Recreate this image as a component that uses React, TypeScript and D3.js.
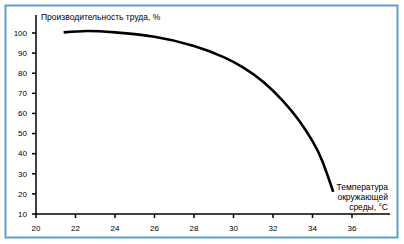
import React from "react";
import * as d3 from "d3";

const temps = [21.4, 22.6, 24.0, 26.0, 28.0, 29.5, 30.5, 31.5, 32.5, 33.3, 34.0, 34.5, 35.05];
const productivity = [100.3, 101.0, 100.3, 98.1, 93.5, 88.0, 82.8, 75.8, 66.3, 56.7, 46.2, 36.2, 21.0];
const xTicks = [20, 22, 24, 26, 28, 30, 32, 34, 36];
const yTicks = [10, 20, 30, 40, 50, 60, 70, 80, 90, 100];
const yTitle = "Производительность труда, %";
const xTitle = ["Температура", "окружающей", "среды, °С"];

export default function App() {
  const W = 404, H = 244;
  const x = d3.scaleLinear().domain([20, 36]).range([36, 352]);
  const y = d3.scaleLinear().domain([10, 100]).range([214, 33]);
  const pts: [number, number][] = temps.map((t, i) => [t, productivity[i]]);
  const line = d3.line<[number, number]>()
    .x(d => x(d[0]))
    .y(d => y(d[1]))
    .curve(d3.curveNatural);
  const font = "'Liberation Sans', Arial, sans-serif";
  return (
    <svg width={W} height={H} style={{ position: "absolute", left: 0, top: 0 }} fontFamily={font}>
      <rect x={0} y={0} width={W} height={H} fill="#fff" />
      <rect x={5.5} y={5.5} width={392} height={232} fill="none" stroke="#5aa2c2" strokeWidth={2} />
      {/* axes */}
      <line x1={36} x2={36} y1={15} y2={214} stroke="#000" strokeWidth={1.5} />
      <line x1={35.25} x2={390} y1={214} y2={214} stroke="#000" strokeWidth={1.5} />
      {yTicks.map(v => (
        <g key={"y" + v}>
          <line x1={32} x2={36} y1={y(v)} y2={y(v)} stroke="#000" strokeWidth={1.5} />
          <text x={27} y={y(v)} dy="0.35em" textAnchor="end" fontSize={8} fill="#000">{v}</text>
        </g>
      ))}
      {xTicks.map(v => (
        <g key={"x" + v}>
          <line x1={x(v)} x2={x(v)} y1={214} y2={218} stroke="#000" strokeWidth={1.5} />
          <text x={x(v)} y={228.5} dy="0.35em" textAnchor="middle" fontSize={8} fill="#000">{v}</text>
        </g>
      ))}
      <text x={41} y={20} fontSize={8.5} fill="#000">{yTitle}</text>
      {xTitle.map((s, i) => (
        <text key={s} x={388} y={187.5 + i * 9.7} dy="0.35em" textAnchor="end" fontSize={8.5} fill="#000">{s}</text>
      ))}
      <path d={line(pts) || ""} fill="none" stroke="#000" strokeWidth={2.6} />
    </svg>
  );
}
